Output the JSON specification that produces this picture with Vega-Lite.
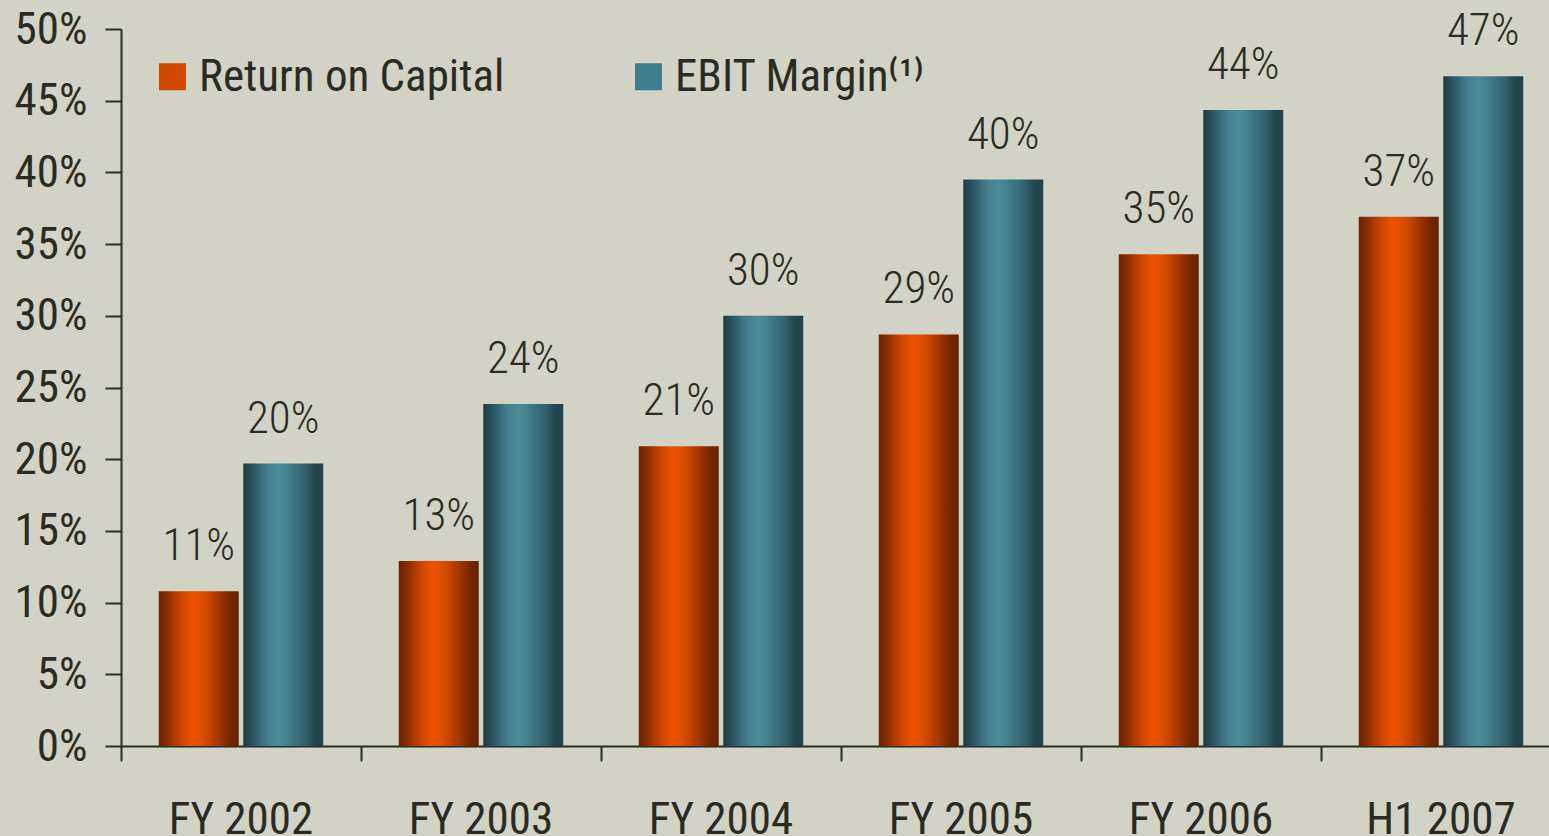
{
  "$schema": "https://vega.github.io/schema/vega-lite/v6.json",
  "autosize": "none",
  "width": 1440,
  "height": 717,
  "padding": {"left": 121, "top": 29, "right": -12, "bottom": 90},
  "background": "#d2d2c6",
  "config": {
    "view": {"stroke": null},
    "font": "Roboto Condensed, Roboto, sans-serif"
  },
  "data": {
    "values": [
      {"period": "FY 2002", "series": "Return on Capital", "value": 10.8, "label": "11%"},
      {"period": "FY 2002", "series": "EBIT Margin⁽¹⁾", "value": 19.7, "label": "20%"},
      {"period": "FY 2003", "series": "Return on Capital", "value": 12.9, "label": "13%"},
      {"period": "FY 2003", "series": "EBIT Margin⁽¹⁾", "value": 23.85, "label": "24%"},
      {"period": "FY 2004", "series": "Return on Capital", "value": 20.9, "label": "21%"},
      {"period": "FY 2004", "series": "EBIT Margin⁽¹⁾", "value": 30.0, "label": "30%"},
      {"period": "FY 2005", "series": "Return on Capital", "value": 28.7, "label": "29%"},
      {"period": "FY 2005", "series": "EBIT Margin⁽¹⁾", "value": 39.5, "label": "40%"},
      {"period": "FY 2006", "series": "Return on Capital", "value": 34.3, "label": "35%"},
      {"period": "FY 2006", "series": "EBIT Margin⁽¹⁾", "value": 44.35, "label": "44%"},
      {"period": "H1 2007", "series": "Return on Capital", "value": 36.9, "label": "37%"},
      {"period": "H1 2007", "series": "EBIT Margin⁽¹⁾", "value": 46.7, "label": "47%"}
    ]
  },
  "encoding": {
    "xOffset": {
      "field": "series",
      "type": "nominal",
      "sort": ["Return on Capital", "EBIT Margin⁽¹⁾"],
      "scale": {"paddingInner": 0.053, "paddingOuter": 0.447}
    },
    "y": {
      "field": "value",
      "type": "quantitative",
      "scale": {"domain": [0, 50], "nice": false, "zero": true},
      "axis": {
        "title": null,
        "values": [0, 5, 10, 15, 20, 25, 30, 35, 40, 45, 50],
        "labelExpr": "datum.value + '%'",
        "grid": false,
        "domainColor": "#2a2c24",
        "domainWidth": 2,
        "tickColor": "#2a2c24",
        "tickWidth": 2,
        "tickSize": 16,
        "labelPadding": 18,
        "labelFontSize": 45,
        "labelColor": "#2a2c24",
        "labelFont": "Roboto Condensed, Roboto, sans-serif"
      }
    }
  },
  "layer": [
    {
      "mark": {"type": "bar"},
      "encoding": {
        "x": {
          "field": "period",
          "type": "nominal",
          "sort": null,
          "scale": {"paddingInner": 0, "paddingOuter": 0},
          "axis": {
            "orient": "bottom",
            "title": null,
            "labels": false,
            "ticks": true,
            "bandPosition": 0,
            "tickSize": 15,
            "tickWidth": 2,
            "tickColor": "#2a2c24",
            "domain": true,
            "domainColor": "#2a2c24",
            "domainWidth": 2,
            "grid": false
          }
        },
        "fill": {
          "condition": {
            "test": "datum.series === 'Return on Capital'",
            "value": {
              "gradient": "linear",
              "x1": 0, "x2": 1, "y1": 0, "y2": 0,
              "stops": [
                {"offset": 0, "color": "#6b2300"},
                {"offset": 0.12, "color": "#8a2e00"},
                {"offset": 0.25, "color": "#c44200"},
                {"offset": 0.4, "color": "#e85200"},
                {"offset": 0.5, "color": "#e55000"},
                {"offset": 0.62, "color": "#c84600"},
                {"offset": 0.78, "color": "#9a3300"},
                {"offset": 0.9, "color": "#722600"},
                {"offset": 1, "color": "#6a2300"}
              ]
            }
          },
          "value": {
            "gradient": "linear",
            "x1": 0, "x2": 1, "y1": 0, "y2": 0,
            "stops": [
              {"offset": 0, "color": "#203e47"},
              {"offset": 0.12, "color": "#2c5460"},
              {"offset": 0.3, "color": "#43808e"},
              {"offset": 0.45, "color": "#4a8c9a"},
              {"offset": 0.6, "color": "#3f7985"},
              {"offset": 0.78, "color": "#30606b"},
              {"offset": 0.9, "color": "#24444e"},
              {"offset": 1, "color": "#21404a"}
            ]
          }
        }
      }
    },
    {
      "mark": {"type": "bar", "opacity": 0},
      "encoding": {
        "x": {"field": "period", "type": "nominal", "sort": null, "axis": null},
        "color": {
          "field": "series",
          "type": "nominal",
          "scale": {
            "domain": ["Return on Capital", "EBIT Margin⁽¹⁾"],
            "range": ["#d24a00", "#3f7f8c"]
          },
          "legend": {
            "orient": "none",
            "legendX": 29,
            "legendY": 25,
            "direction": "horizontal",
            "columns": 2,
            "title": null,
            "symbolType": "square",
            "symbolSize": 729,
            "symbolOpacity": 1,
            "symbolStrokeWidth": 0,
            "labelFontSize": 45,
            "labelFont": "Roboto Condensed, Roboto, sans-serif",
            "labelColor": "#2a2c24",
            "labelOffset": 4,
            "labelLimit": 0,
            "columnPadding": 121,
            "encode": {
              "symbols": {
                "update": {
                  "fill": {
                    "signal": "datum.value === 'Return on Capital' ? {gradient: 'linear', x1: 0, x2: 1, y1: 0, y2: 0, stops: [{offset: 0, color: '#6b2300'}, {offset: 0.2, color: '#a83a00'}, {offset: 0.4, color: '#e85200'}, {offset: 0.6, color: '#d04800'}, {offset: 0.8, color: '#8a2e00'}, {offset: 1, color: '#6a2300'}]} : {gradient: 'linear', x1: 0, x2: 1, y1: 0, y2: 0, stops: [{offset: 0, color: '#203e47'}, {offset: 0.2, color: '#336472'}, {offset: 0.45, color: '#4a8c9a'}, {offset: 0.7, color: '#3a707c'}, {offset: 1, color: '#21404a'}]}"
                  }
                }
              }
            }
          }
        }
      }
    },
    {
      "mark": {
        "type": "text",
        "baseline": "alphabetic",
        "align": "center",
        "dy": -31,
        "fontSize": 45,
        "fontWeight": 300,
        "color": "#2a2c24",
        "font": "Roboto Condensed, Roboto, sans-serif"
      },
      "encoding": {
        "x": {
          "field": "period",
          "type": "nominal",
          "sort": null,
          "axis": {
            "orient": "bottom",
            "title": null,
            "labels": true,
            "labelAngle": 0,
            "ticks": false,
            "tickSize": 0,
            "domain": false,
            "grid": false,
            "labelPadding": 51,
            "labelFontSize": 45,
            "labelColor": "#2a2c24",
            "labelFont": "Roboto Condensed, Roboto, sans-serif"
          }
        },
        "text": {"field": "label", "type": "nominal"}
      }
    }
  ],
  "resolve": {"axis": {"x": "independent"}}
}
